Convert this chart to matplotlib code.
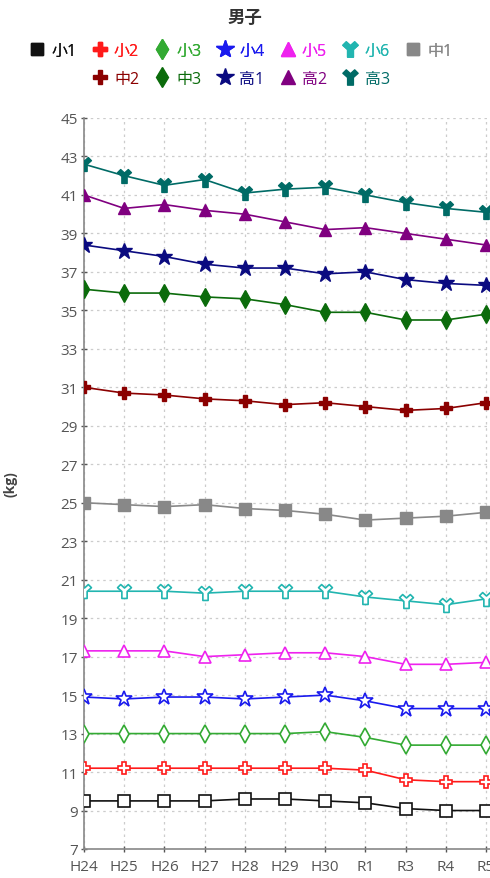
import matplotlib
matplotlib.use("Agg")
import matplotlib.pyplot as plt
from matplotlib.lines import Line2D
from matplotlib.path import Path

plt.rcParams['font.family'] = ['Open Sans', 'Noto Sans CJK JP', 'DejaVu Sans']

years = ["H24", "H25", "H26", "H27", "H28", "H29", "H30", "R1", "R3", "R4", "R5"]

sho1 = [9.5, 9.5, 9.5, 9.5, 9.6, 9.6, 9.5, 9.4, 9.1, 9.0, 9.0]
sho2 = [11.2, 11.2, 11.2, 11.2, 11.2, 11.2, 11.2, 11.1, 10.6, 10.5, 10.5]
sho3 = [13.0, 13.0, 13.0, 13.0, 13.0, 13.0, 13.1, 12.8, 12.4, 12.4, 12.4]
sho4 = [14.9, 14.8, 14.9, 14.9, 14.8, 14.9, 15.0, 14.7, 14.3, 14.3, 14.3]
sho5 = [17.3, 17.3, 17.3, 17.0, 17.1, 17.2, 17.2, 17.0, 16.6, 16.6, 16.7]
sho6 = [20.4, 20.4, 20.4, 20.3, 20.4, 20.4, 20.4, 20.1, 19.9, 19.7, 20.0]
chu1 = [25.0, 24.9, 24.8, 24.9, 24.7, 24.6, 24.4, 24.1, 24.2, 24.3, 24.5]
chu2 = [31.0, 30.7, 30.6, 30.4, 30.3, 30.1, 30.2, 30.0, 29.8, 29.9, 30.2]
chu3 = [36.1, 35.9, 35.9, 35.7, 35.6, 35.3, 34.9, 34.9, 34.5, 34.5, 34.8]
ko1 = [38.4, 38.1, 37.8, 37.4, 37.2, 37.2, 36.9, 37.0, 36.6, 36.4, 36.3]
ko2 = [41.0, 40.3, 40.5, 40.2, 40.0, 39.6, 39.2, 39.3, 39.0, 38.7, 38.4]
ko3 = [42.6, 42.0, 41.5, 41.8, 41.1, 41.3, 41.4, 41.0, 40.6, 40.3, 40.1]

labels = ["小1", "小2", "小3", "小4", "小5", "小6", "中1",
          "中2", "中3", "高1", "高2", "高3"]
series = [sho1, sho2, sho3, sho4, sho5, sho6, chu1, chu2, chu3, ko1, ko2, ko3]

# Y shaped marker
ymark = Path([(-1.0, 0.55), (-0.55, 1.0), (0.0, 0.5), (0.55, 1.0), (1.0, 0.55),
              (0.38, 0.0), (0.38, -1.0), (-0.38, -1.0), (-0.38, 0.0), (-1.0, 0.55)],
             closed=True)

colors = ["#111111", "#ff1a1a", "#33aa33", "#1a1aee", "#ee22ee", "#22b5b0",
          "#888888", "#8b0000", "#0b6b0b", "#0a0a80", "#800080", "#006b66"]
markers = ["s", "P", "d", "*", "^", ymark, "s", "P", "d", "*", "^", ymark]
sizes = [8, 9, 9, 12, 9, 10, 8, 9, 9, 12, 9, 10]
hollow = [True] * 6 + [False] * 6

fig = plt.figure(figsize=(4.9, 8.79), dpi=100)
ax = fig.add_axes([84 / 490, 29 / 879, 406 / 490, 731 / 879])

x = list(range(len(years)))
for vals, c, m, s, h in zip(series, colors, markers, sizes, hollow):
    ax.plot(x, vals, color=c, lw=1.2, marker=m, ms=s, mec=c,
            mfc="white" if h else c, mew=1.2 if h else 1.0, zorder=3)

ax.set_xlim(0, 406 / 40.2)
ax.set_ylim(7, 45)
ax.set_yticks(range(7, 46, 2))
ax.set_xticks(x)
ax.set_xticklabels(years)
ax.grid(True, color="#cccccc", ls=(0, (2, 3)), lw=0.9)
ax.spines["top"].set_visible(False)
ax.spines["right"].set_visible(False)
for sp in ("left", "bottom"):
    ax.spines[sp].set_color("#888888")
    ax.spines[sp].set_linewidth(1.2)
ax.tick_params(colors="#555555", labelsize=11, length=5, width=1, direction="inout")
ax.tick_params(axis="x", pad=5)
ax.tick_params(axis="y", pad=2)
ax.set_ylabel("(kg)", fontsize=10, fontweight="bold", color="#444444")
ax.yaxis.set_label_coords(-0.163, 0.5)

fig.text(0.5, 1 - 18 / 879, "男子", ha="center", va="center",
         fontsize=12.5, fontweight="bold", color="#333333")

handles = [Line2D([], [], ls="none", marker=m, ms=s * 1.1, color=c, mec=c, mfc=c)
           for m, s, c in zip(markers, sizes, colors)]
leg1 = fig.legend(handles[:7], labels[:7], loc="center", ncol=7,
                  bbox_to_anchor=(0.492, 1 - 52 / 879), frameon=False,
                  fontsize=11.5, handlelength=0.9, handletextpad=0.45,
                  columnspacing=1.0, labelcolor=colors[:7])
fig.add_artist(leg1)
fig.legend(handles[7:], labels[7:], loc="center", ncol=5,
           bbox_to_anchor=(0.492, 1 - 80 / 879), frameon=False,
           fontsize=11.5, handlelength=0.9, handletextpad=0.45,
           columnspacing=1.0, labelcolor=colors[7:])

fig.savefig("out.png", dpi=100)
